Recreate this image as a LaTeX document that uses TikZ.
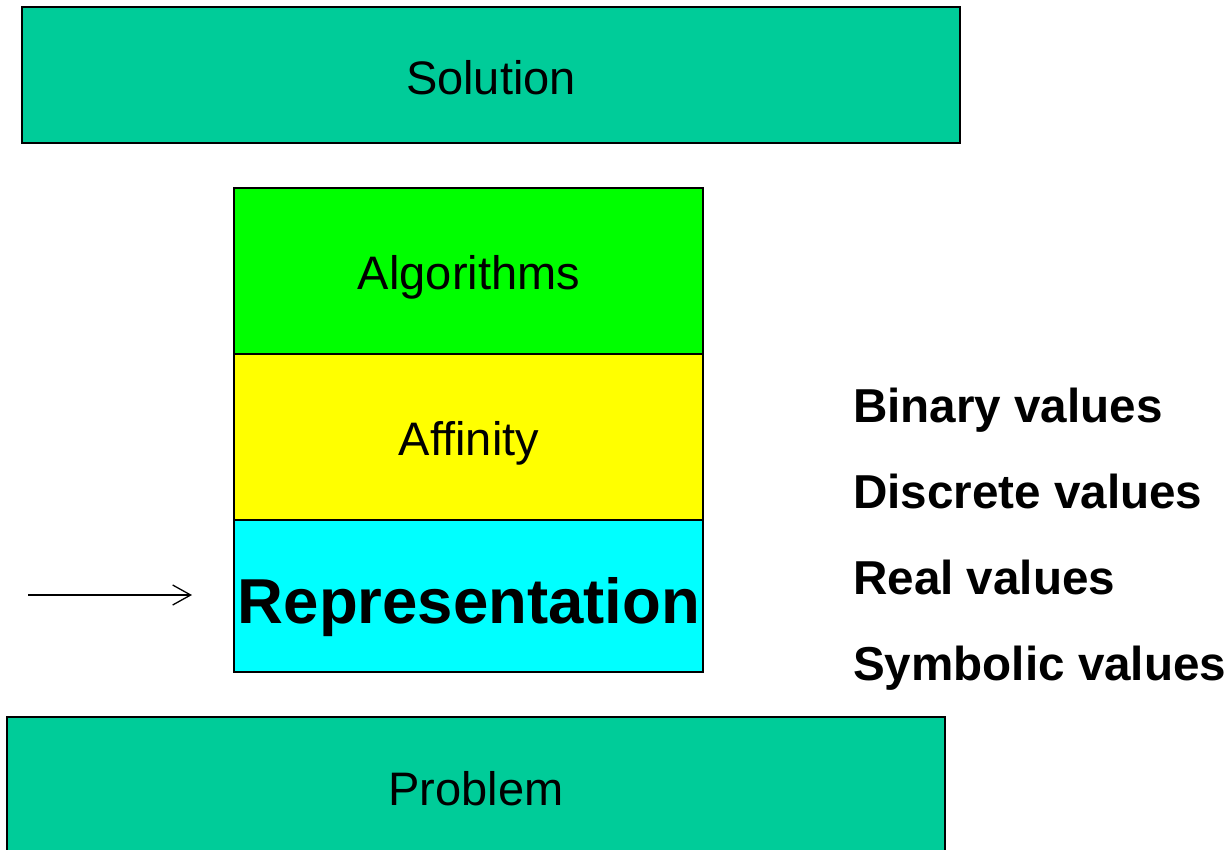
\documentclass[tikz,border=0pt]{standalone}
\usepackage{fontspec}
\setmainfont{Liberation Sans}
\usetikzlibrary{arrows.meta}
\definecolor{outerband}{RGB}{0,204,153}
\definecolor{algofill}{RGB}{0,255,0}
\definecolor{affinfill}{RGB}{255,255,0}
\definecolor{reprfill}{RGB}{0,255,255}
\begin{document}
\begin{tikzpicture}[x=1pt,y=-1pt,
  box/.style={draw=black, line width=1.5pt, inner sep=0pt, outer sep=0pt, anchor=north west},
  lbl/.style={font=\fontsize{47}{56}\selectfont, anchor=base, inner sep=0pt},
  biglbl/.style={font=\fontsize{63.5}{75}\selectfont\bfseries, anchor=base, inner sep=0pt},
  val/.style={font=\fontsize{47.6}{56}\selectfont\bfseries, anchor=base west, inner sep=0pt},
  pointer/.style={-{Straight Barb[length=18pt,width=20pt]}, line width=1.3pt}]
\clip (0,0) rectangle (1231,849);
\fill[white] (0,0) rectangle (1231,849);

% outer bands
\node[box, fill=outerband, minimum width=938pt, minimum height=136pt] (solution) at (22,7) {};
\node[box, fill=outerband, minimum width=938pt, minimum height=170pt] (problem) at (7,717) {};

% central stack
\node[box, fill=algofill, minimum width=469pt, minimum height=166pt] (algorithms) at (234,188) {};
\node[box, fill=affinfill, minimum width=469pt, minimum height=166pt] (affinity) at (234,354) {};
\node[box, fill=reprfill, minimum width=469pt, minimum height=152pt] (representation) at (234,520) {};

% labels
\node[lbl] (solutiontext) at (491,94) {Solution};
\node[lbl] (algotext) at (469,289) {Algorithms};
\node[lbl] (affintext) at (469,455) {Affinity};
\node[biglbl] (reprtext) at (469,623) {Representation};
\node[lbl] (problemtext) at (476,805) {Problem};

% value types
\node[val] (binary) at (853,422) {Binary values};
\node[val] (discrete) at (853,508) {Discrete values};
\node[val] (real) at (853,594) {Real values};
\node[val] (symbolic) at (853,680) {Symbolic values};

% input arrow
\coordinate (arrowtail) at (28,595);
\coordinate (arrowhead) at (192,595);
\draw[pointer] (arrowtail) -- (arrowhead);
\end{tikzpicture}
\end{document}
